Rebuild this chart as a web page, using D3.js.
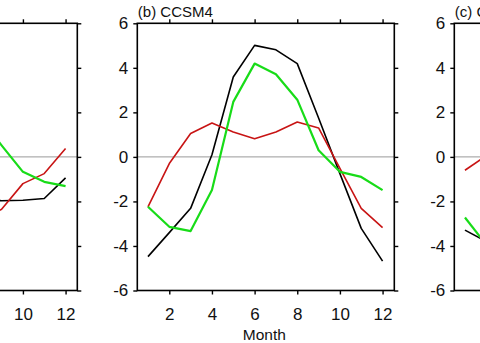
<!DOCTYPE html>
<html>
<head>
<meta charset="utf-8">
<script src="https://cdn.jsdelivr.net/npm/d3@7/dist/d3.min.js"></script>
<style>
  html, body { margin: 0; padding: 0; background: #fff; }
  svg { display: block; }
  text { font-family: "Liberation Sans", Arial, Helvetica, sans-serif; fill: #111; }
</style>
</head>
<body>
<svg id="chart" width="480" height="343"></svg>
<script>
// Monthly anomalies for three panels (black, red, green curves)
const panelTitles = ["", "(b) CCSM4", "(c) CNRM-CM5"];

const monthsA = [8, 9, 10, 11, 12];
const blackA = [-1.9, -1.97, -1.95, -1.87, -0.94];
const redA   = [-2.9, -2.35, -1.2, -0.75, 0.38];
const greenA = [1.7, 0.52, -0.67, -1.12, -1.31];

const monthsB = [1, 2, 3, 4, 5, 6, 7, 8, 9, 10, 11, 12];
const blackB = [-4.48, -3.4, -2.31, 0.1, 3.59, 5.01, 4.81, 4.19, 1.75, -0.75, -3.21, -4.68];
const redB   = [-2.24, -0.3, 1.05, 1.52, 1.12, 0.82, 1.12, 1.57, 1.3, -0.52, -2.31, -3.18];
const greenB = [-2.24, -3.14, -3.33, -1.49, 2.47, 4.19, 3.71, 2.57, 0.3, -0.67, -0.9, -1.49];

const monthsC = [1, 2];
const blackC = [-3.29, -3.8];
const redC   = [-0.6, 0.05];
const greenC = [-2.72, -3.95];

const xTicks = [2, 4, 6, 8, 10, 12];
const yTicks = [-6, -4, -2, 0, 2, 4, 6];
const xLabel = "Month";

const panels = [
  { title: panelTitles[0], months: monthsA, black: blackA, red: redA, green: greenA },
  { title: panelTitles[1], months: monthsB, black: blackB, red: redB, green: greenB },
  { title: panelTitles[2], months: monthsC, black: blackC, red: redC, green: greenC }
];

const W = 480;
const svg = d3.select("#chart");
const plotTop = 23.3, plotBottom = 290.5, panelW = 257, step = 317, firstLeft = -179.7;
const colors = { black: "#000000", red: "#c81414", green: "#18dc18" };
const widths = { black: 1.6, red: 1.6, green: 2.2 };

panels.forEach((p, i) => {
  const left = firstLeft + i * step;
  const x = d3.scaleLinear().domain([0.5, 12.55]).range([left, left + panelW]);
  const y = d3.scaleLinear().domain([-6, 6]).range([plotBottom, plotTop]);
  const g = svg.append("g");

  // zero reference line
  g.append("line")
    .attr("x1", left).attr("x2", left + panelW)
    .attr("y1", y(0)).attr("y2", y(0))
    .attr("stroke", "#999").attr("stroke-width", 1);

  // curves
  ["black", "red", "green"].forEach(k => {
    const pts = p.months.map((m, j) => [m, p[k][j]]);
    g.append("path")
      .datum(pts)
      .attr("fill", "none")
      .attr("stroke", colors[k])
      .attr("stroke-width", widths[k])
      .attr("stroke-linejoin", "round")
      .attr("d", d3.line().x(d => x(d[0])).y(d => y(d[1])));
  });

  // axes, ticks pointing outward
  const fmt = d => String(d);
  const ax = [
    g.append("g").attr("transform", `translate(0,${plotBottom})`)
      .call(d3.axisBottom(x).tickValues(xTicks).tickSize(4).tickPadding(13).tickFormat(fmt)),
    g.append("g").attr("transform", `translate(0,${plotTop})`)
      .call(d3.axisTop(x).tickValues(xTicks).tickSize(4).tickFormat("")),
    g.append("g").attr("transform", `translate(${left},0)`)
      .call(d3.axisLeft(y).tickValues(yTicks).tickSize(4).tickPadding(5).tickFormat(fmt)),
    g.append("g").attr("transform", `translate(${left + panelW},0)`)
      .call(d3.axisRight(y).tickValues(yTicks).tickSize(4).tickFormat(""))
  ];
  ax.forEach(a => {
    a.select(".domain").remove();
    a.selectAll(".tick line").attr("stroke", "#000").attr("stroke-width", 1.4);
    a.selectAll(".tick text").attr("font-size", 17)
      .attr("font-family", '"Liberation Sans", Arial, sans-serif').attr("fill", "#111");
  });

  // frame
  g.append("rect")
    .attr("x", left).attr("y", plotTop)
    .attr("width", panelW).attr("height", plotBottom - plotTop)
    .attr("fill", "none").attr("stroke", "#000").attr("stroke-width", 1.6);

  // panel title
  if (p.title) {
    g.append("text").attr("x", left + 0.5).attr("y", 17)
      .attr("font-size", 15).text(p.title);
  }

  // x-axis title
  g.append("text").attr("x", left + panelW / 2 - 1.5).attr("y", 340)
    .attr("text-anchor", "middle").attr("font-size", 15.5).text(xLabel);
});

// drop labels of the outer panels that lie wholly outside the drawing width
svg.selectAll("text").each(function () {
  const b = this.getBoundingClientRect();
  if (b.right <= 0 || b.left >= W) d3.select(this).remove();
});
</script>
</body>
</html>
